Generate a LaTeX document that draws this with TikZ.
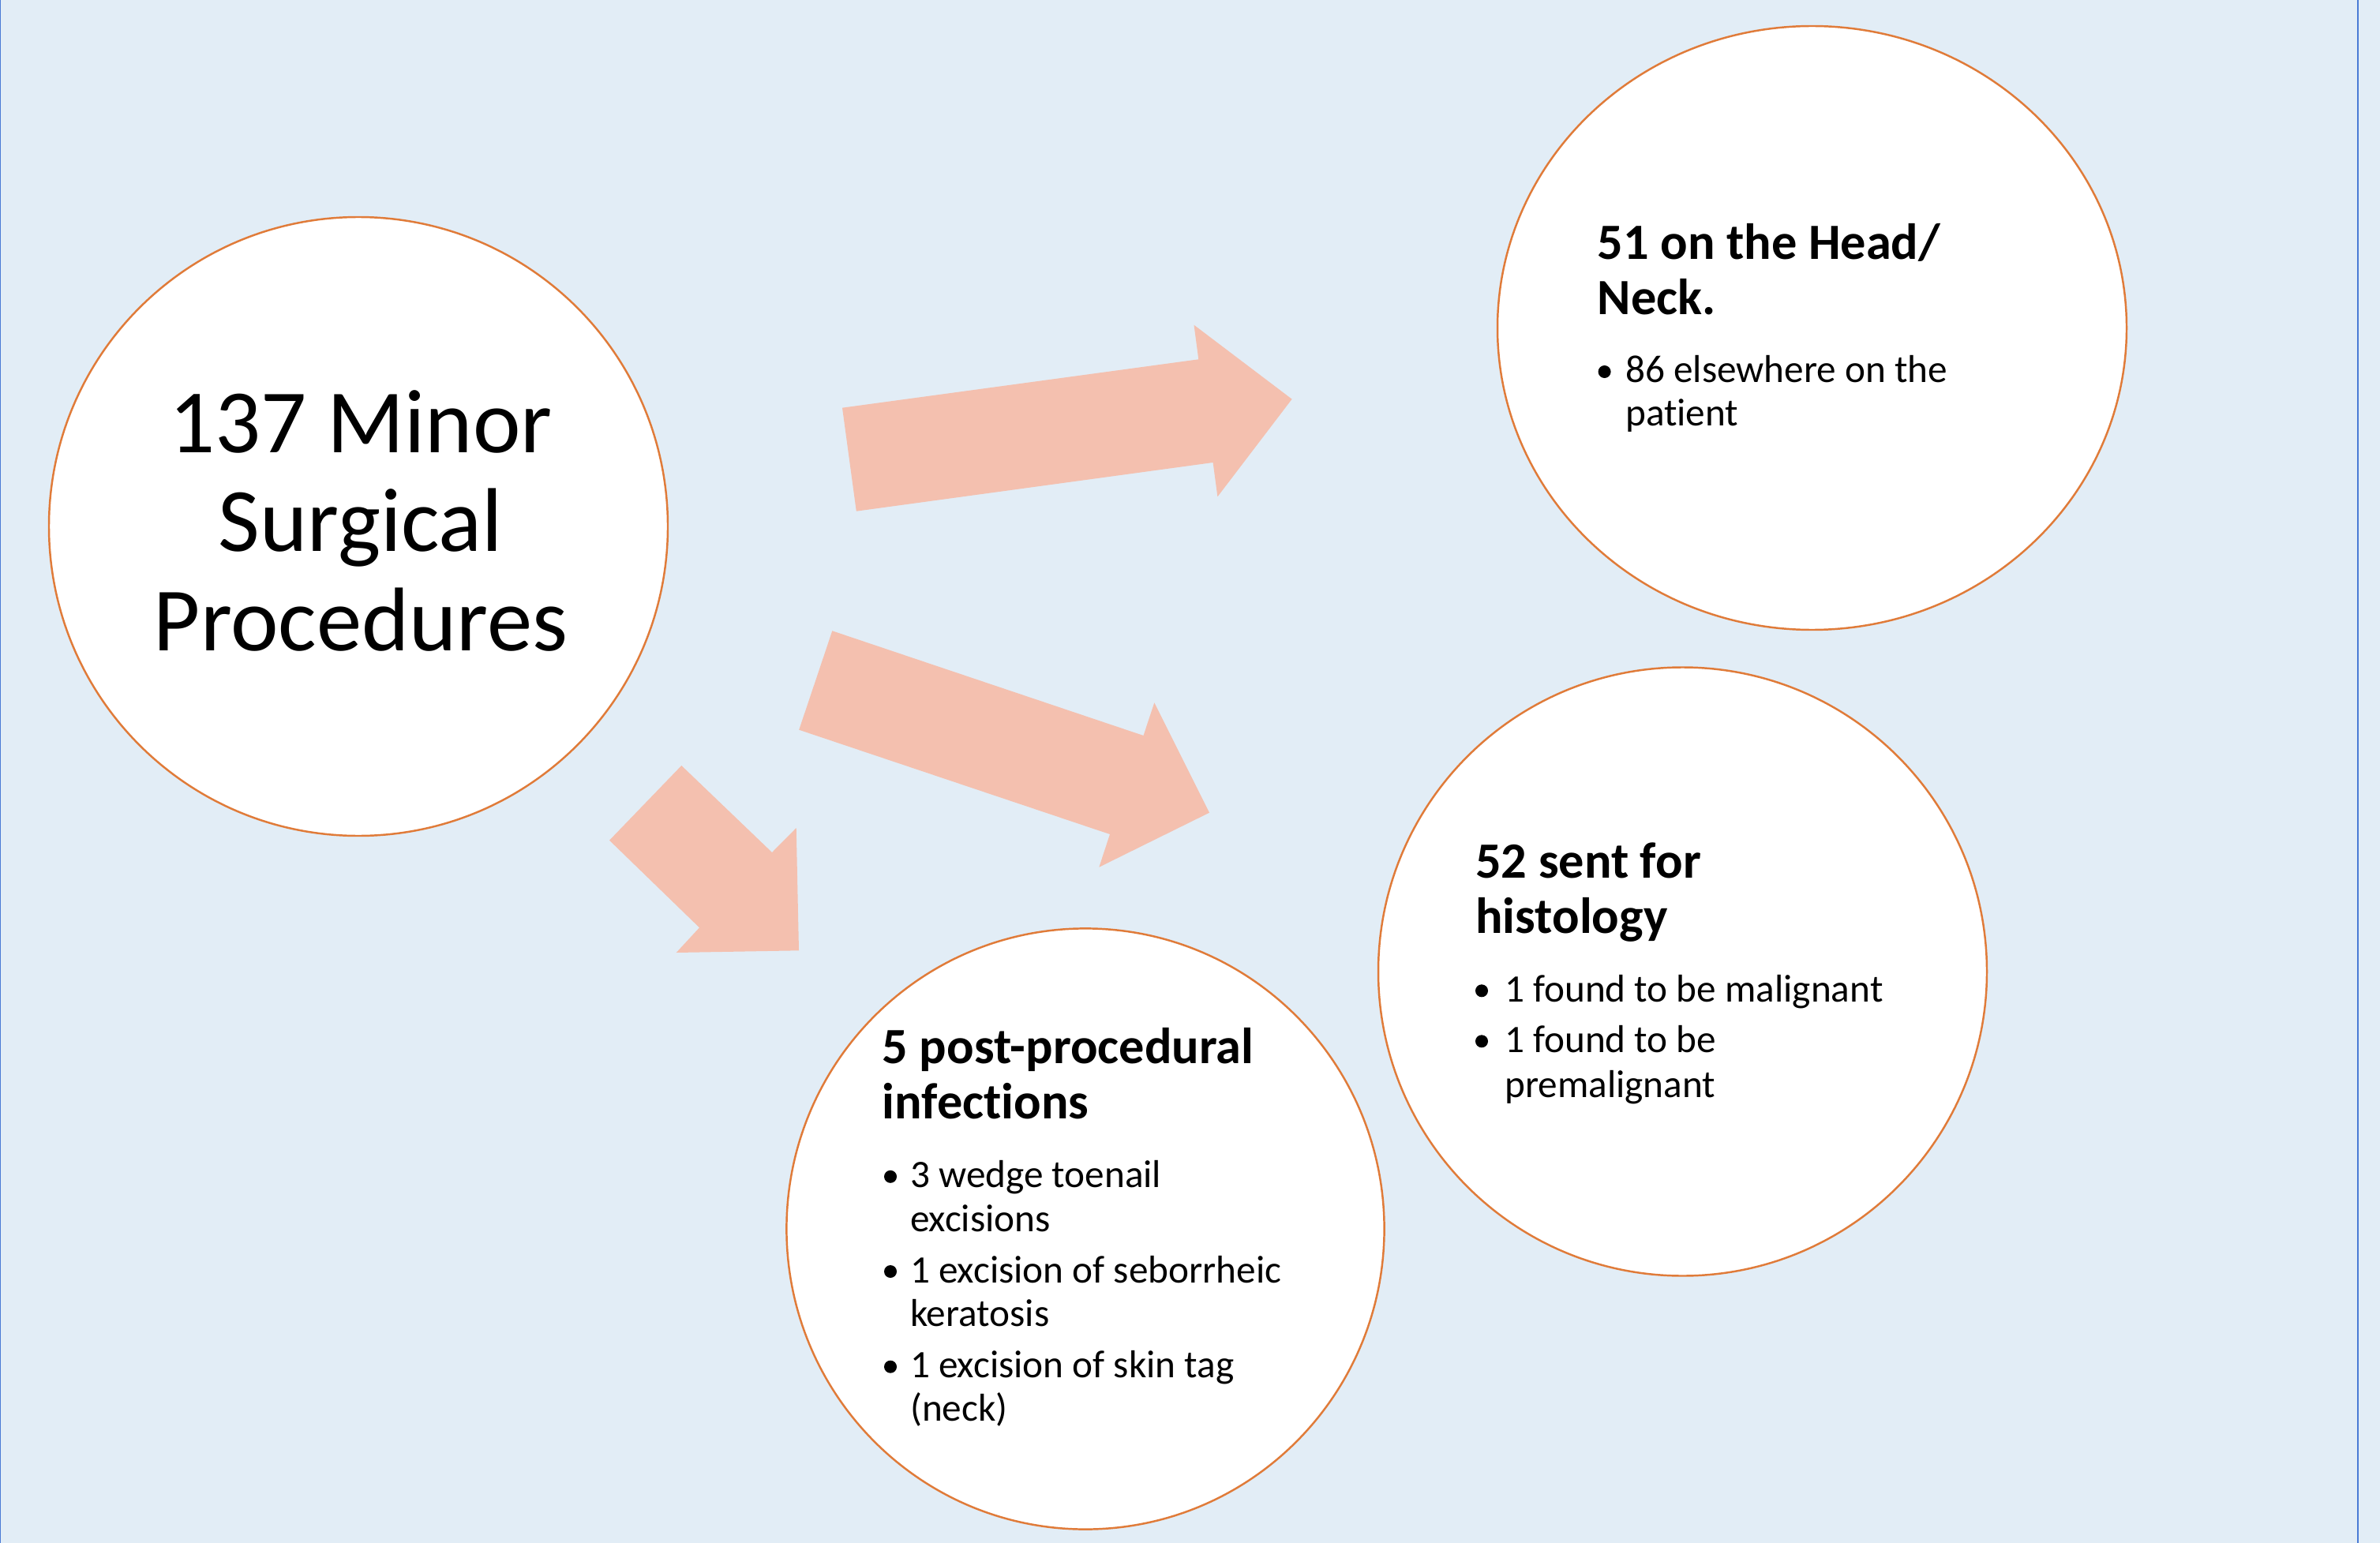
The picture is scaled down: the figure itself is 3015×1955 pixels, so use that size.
\documentclass[tikz,border=0pt]{standalone}
\usepackage{fontspec}
\setmainfont[RawFeature={-liga;-clig;-calt;-dlig}]{Carlito}
\definecolor{bgblue}{HTML}{E2EDF6}
\definecolor{edgeblue}{HTML}{4A7BD5}
\definecolor{salmon}{HTML}{F4C0AF}
\definecolor{ringorange}{HTML}{E07B39}
% keep t and i as separate glyphs
\newcommand{\tisep}{t\kern0pt i}
\begin{document}
\begin{tikzpicture}[x=0.01cm,y=-0.01cm,
  bubble/.style={draw=ringorange,line width=0.7pt,fill=white},
  blockarrow/.style={fill=salmon,draw=none},
  bigtext/.style={anchor=base,inner sep=0pt,font=\fontsize{32.6pt}{36pt}\selectfont},
  headtext/.style={anchor=base west,inner sep=0pt,font=\fontsize{18.3pt}{20pt}\selectfont\bfseries},
  itemtext/.style={anchor=base west,inner sep=0pt,font=\fontsize{14pt}{16pt}\selectfont},
  dot/.style={circle,fill=black,inner sep=0pt,minimum size=0.16cm}]
% page and side rules
\fill[bgblue] (0,0) rectangle (3015,1955);
\useasboundingbox (0,0) rectangle (3015,1955);
\draw[edgeblue,line width=0.4pt] (0.7,0) -- (0.7,1955);
\draw[edgeblue,line width=0.55pt] (2987,0) -- (2987,1955);

% block arrows
\fill[blockarrow] (1067,516.7) -- (1518.3,455.3) -- (1512.5,411.7) -- (1636.6,505.7)
  -- (1542.4,629.3) -- (1536.6,586) -- (1084.8,647.7) -- cycle;
\fill[blockarrow] (1054.3,799.3) -- (1448.5,932) -- (1462.3,890.3) -- (1532,1029.7)
  -- (1392.3,1098.7) -- (1406,1057) -- (1012.2,924.7) -- cycle;
\fill[blockarrow] (863.3,970) -- (978,1080) -- (1008.7,1049) -- (1012,1204.3)
  -- (856.7,1207) -- (886,1175.3) -- (772,1064.7) -- cycle;

% circles
\draw[bubble] (454,667) circle [radius=392];
\draw[bubble] (2295.5,415.5) ellipse [x radius=398.5,y radius=382.5];
\draw[bubble] (2131.5,1231) circle [radius=385.5];
\draw[bubble] (1375,1557) ellipse [x radius=378.6,y radius=380.6];

% main circle
\node[bigtext] (m1) at (457,573.6) {137 Minor};
\node[bigtext] (m2) at (457,698.8) {Surgical};
\node[bigtext] (m3) at (457,824.5) {Procedures};

% head / neck
\node[headtext] (h1) at (2023,329) {51 on the Head/};
\node[headtext] (h2) at (2023,398.3) {Neck.};
\node[dot] (hb1) at (2032.6,471) {};
\node[itemtext] (hi1) at (2058.5,485) {86 elsewhere on the};
\node[itemtext] (hi2) at (2058.5,540) {pa\tisep ent};

% histology
\node[headtext] (s1) at (1868.6,1112.7) {52 sent for};
\node[headtext] (s2) at (1868.6,1182.7) {histology};
\node[dot] (sb1) at (1877,1255.3) {};
\node[itemtext] (si1) at (1905.5,1269.3) {1 found to be malignant};
\node[dot] (sb2) at (1877,1319.3) {};
\node[itemtext] (si2) at (1905.5,1333.3) {1 found to be};
\node[itemtext] (si3) at (1905.5,1390) {premalignant};

% infections
\node[headtext] (p1) at (1117,1347.7) {5 post-procedural};
\node[headtext] (p2) at (1117,1417.6) {infec\tisep ons};
\node[dot] (pb1) at (1128,1490.8) {};
\node[itemtext] (pi1) at (1152.4,1504.8) {3 wedge toenail};
\node[itemtext] (pi2) at (1152.4,1560.6) {excisions};
\node[dot] (pb2) at (1128,1611) {};
\node[itemtext] (pi3) at (1152.4,1625) {1 excision of seborrheic};
\node[itemtext] (pi4) at (1152.4,1680.8) {keratosis};
\node[dot] (pb3) at (1128,1731.7) {};
\node[itemtext] (pi5) at (1152.4,1745.7) {1 excision of skin tag};
\node[itemtext] (pi6) at (1152.4,1800) {(neck)};
\end{tikzpicture}
\end{document}
